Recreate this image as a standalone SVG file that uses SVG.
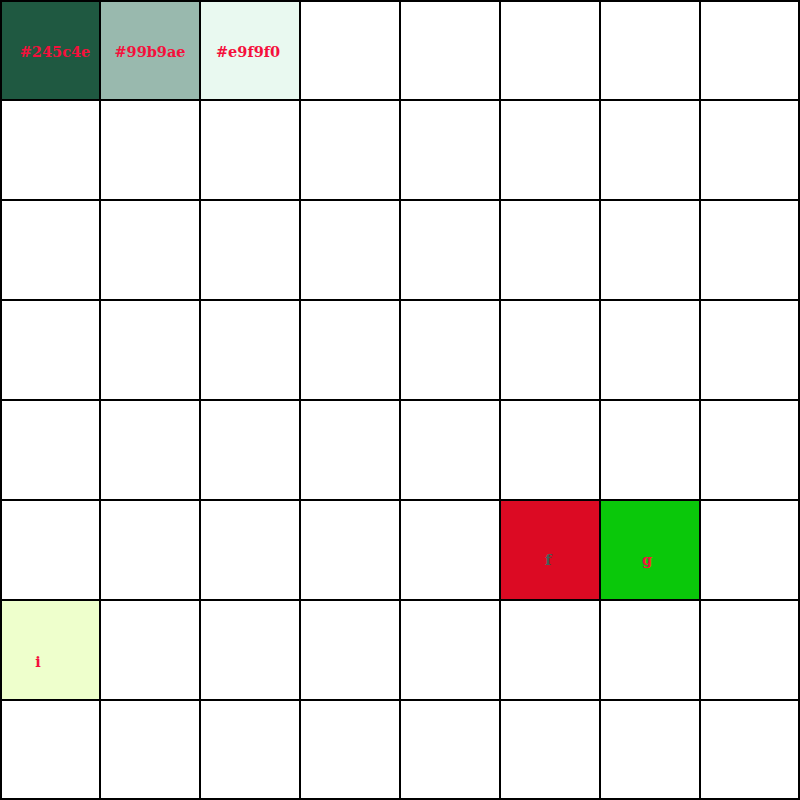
<svg xmlns="http://www.w3.org/2000/svg" width="800" height="800" viewBox="0 0 800 800">
<style>
.c{stroke:#000;stroke-width:2;fill:#fff}
.t{font-family:"DejaVu Serif","Liberation Serif",serif;font-weight:bold;font-size:14.5px;text-anchor:middle;fill:#f5103c}
</style>
<rect width="800" height="800" fill="#fff"/>
<g id="grid">
<path d="M1 1H799V799H1Z M100 0V800 M200 0V800 M300 0V800 M400 0V800 M500 0V800 M600 0V800 M700 0V800 M0 100H800 M0 200H800 M0 300H800 M0 400H800 M0 500H800 M0 600H800 M0 700H800" fill="none" stroke="#000" stroke-width="2"/>
</g>
<g id="n1"><rect class="c" x="1" y="1" width="99" height="99" style="fill:#1f5941"/><text class="t" x="55" y="57">#245c4e</text></g>
<g id="n2"><rect class="c" x="100" y="1" width="100" height="99" style="fill:#99b9ae"/><text class="t" x="150" y="57">#99b9ae</text></g>
<g id="n3"><rect class="c" x="200" y="1" width="100" height="99" style="fill:#e9f9f0"/><text class="t" x="248" y="57">#e9f9f0</text></g>
<g id="f"><rect class="c" x="500" y="500" width="100" height="100" style="fill:#dc0a23"/><text class="t" x="548" y="565" style="fill:#44605a">f</text></g>
<g id="g"><rect class="c" x="600" y="500" width="100" height="100" style="fill:#0ac80a"/><text class="t" x="647" y="565">g</text></g>
<g id="i"><rect class="c" x="1" y="600" width="99" height="100" style="fill:#eeffcc"/><text class="t" x="38" y="667">i</text></g>
<g id="connectors"></g>
</svg>
